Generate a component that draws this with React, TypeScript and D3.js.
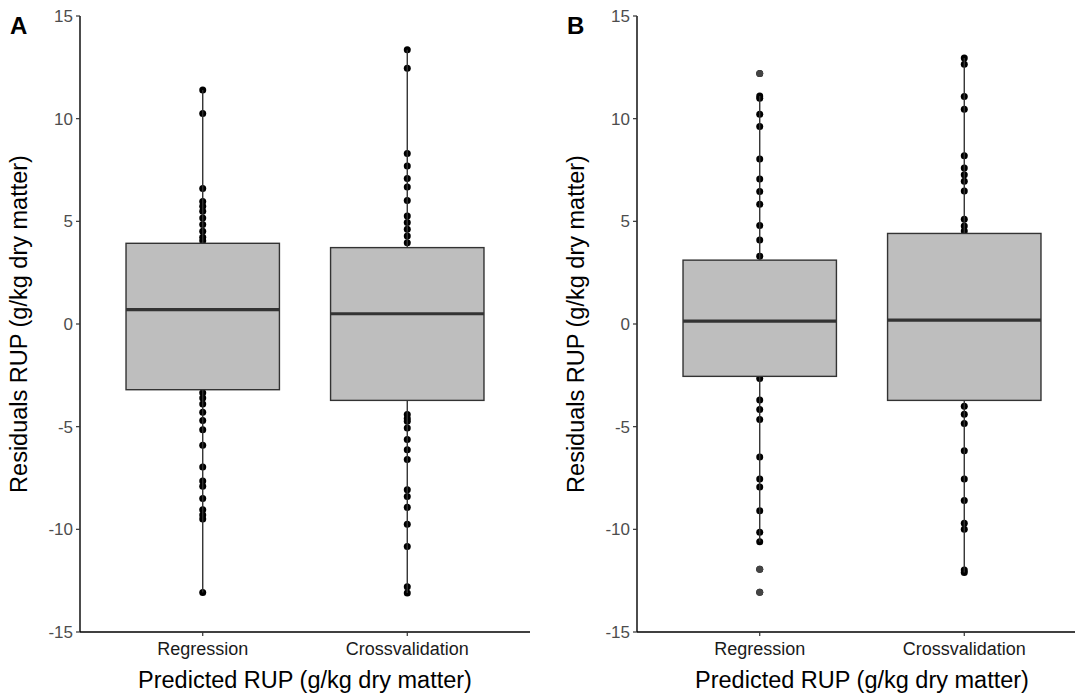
import React from "react";
import * as d3 from "d3";

const categories = ["Regression", "Crossvalidation"];
const yTicks = [-15, -10, -5, 0, 5, 10, 15];

// Panel A residuals (visible points)
const aRegression = [11.4, 10.25, 6.6, 5.97, 5.73, 5.49, 5.16, 4.84, 4.52, 4.23, 4.05,
  -3.35, -3.6, -3.9, -4.3, -4.7, -5.15, -5.9, -6.97, -7.65, -7.9, -8.5, -9.05, -9.3, -9.5, -13.08];
const aCrossvalidation = [13.36, 12.46, 8.3, 7.7, 7.08, 6.67, 6.02, 5.26, 4.94, 4.61, 4.28, 3.96,
  -4.41, -4.6, -4.74, -5.06, -5.63, -6.12, -6.6, -8.07, -8.4, -8.93, -9.75, -10.84, -12.8, -13.1];
// Panel B residuals
const bRegression = [12.2, 11.1, 11.0, 10.22, 9.62, 8.04, 7.06, 6.45, 5.83, 4.8, 4.09, 3.3,
  -2.66, -3.7, -4.17, -4.65, -6.48, -7.55, -7.94, -9.1, -10.14, -10.6, -11.94, -13.06];
const bCrossvalidation = [12.95, 12.65, 11.08, 10.46, 8.19, 7.6, 7.27, 6.95, 6.48, 5.1, 4.77, 4.53,
  -4.0, -4.4, -4.85, -6.17, -7.55, -8.6, -9.7, -10.0, -11.98, -12.1];

// Box statistics [q1, median, q3]
const aStats = [[-3.2, 0.7, 3.93], [-3.72, 0.5, 3.72]];
const bStats = [[-2.55, 0.14, 3.11], [-3.72, 0.19, 4.41]];

const panelLabels = ["A", "B"];
const yTitle = "Residuals RUP (g/kg dry matter)";
const xTitle = "Predicted RUP (g/kg dry matter)";

const FONT = "'Liberation Sans', Arial, sans-serif";
const W = 1075, H = 695;
const TOP = 16, BOTTOM = 632;

function Panel({ left, right, label, series, stats }: any) {
  const y = d3.scaleLinear().domain([-15, 15]).range([BOTTOM, TOP]);
  const x = d3.scalePoint<string>().domain(categories).range([left, right]).padding(0.6);
  const step = x.step();
  const bw = step * 0.75;
  const boxes = categories.map((c, i) => {
    const [q1, med, q3] = stats[i];
    const iqr = q3 - q1;
    const lo = q1 - 1.5 * iqr, hi = q3 + 1.5 * iqr;
    const vals: number[] = series[i];
    const inside = vals.filter((v) => v >= lo && v <= hi);
    const wLo = Math.min(q1, d3.min(inside) as number);
    const wHi = Math.max(q3, d3.max(inside) as number);
    const outliers = vals.filter((v) => v < lo || v > hi);
    return { c, q1, med, q3, wLo, wHi, outliers, vals };
  });
  const cx = (left + right) / 2;
  return (
    <g>
      <text x={left - 70} y={34} fontFamily={FONT} fontWeight="bold" fontSize={24} fill="#000">{label}</text>
      {boxes.map((b) => b.vals.map((v, j) => (
        <circle key={b.c + j} cx={x(b.c)} cy={y(v)} r={3.5} fill="#000" />
      )))}
      {boxes.map((b) => {
        const px = x(b.c) as number;
        return (
          <g key={b.c}>
            <line x1={px} x2={px} y1={y(b.wHi)} y2={y(b.q3)} stroke="#333" strokeWidth={1.4} />
            <line x1={px} x2={px} y1={y(b.q1)} y2={y(b.wLo)} stroke="#333" strokeWidth={1.4} />
            <rect x={px - bw / 2} y={y(b.q3)} width={bw} height={y(b.q1) - y(b.q3)} fill="#bebebe" stroke="#333" strokeWidth={1.4} />
            <line x1={px - bw / 2} x2={px + bw / 2} y1={y(b.med)} y2={y(b.med)} stroke="#333" strokeWidth={3.2} />
            {b.outliers.map((v, j) => (
              <circle key={j} cx={px} cy={y(v)} r={3.5} fill="#444" />
            ))}
          </g>
        );
      })}
      <line x1={left} x2={left} y1={TOP} y2={BOTTOM} stroke="#000" strokeWidth={1.4} />
      <line x1={left} x2={right} y1={BOTTOM} y2={BOTTOM} stroke="#000" strokeWidth={1.4} />
      {yTicks.map((t) => (
        <g key={t}>
          <line x1={left - 4} x2={left} y1={y(t)} y2={y(t)} stroke="#333" strokeWidth={1.2} />
          <text x={left - 7} y={y(t)} dy="0.35em" textAnchor="end" fontFamily={FONT} fontSize={17} fill="#4d4d4d">{t}</text>
        </g>
      ))}
      {categories.map((c) => (
        <g key={c}>
          <line x1={x(c)} x2={x(c)} y1={BOTTOM} y2={BOTTOM + 4} stroke="#333" strokeWidth={1.2} />
          <text x={x(c)} y={BOTTOM + 23} textAnchor="middle" fontFamily={FONT} fontSize={18} fill="#1a1a1a">{c}</text>
        </g>
      ))}
      <text x={cx} y={688} textAnchor="middle" fontFamily={FONT} fontSize={23.5} fill="#000">{xTitle}</text>
      <text transform={`translate(${left - 53},${(TOP + BOTTOM) / 2}) rotate(-90)`} textAnchor="middle" fontFamily={FONT} fontSize={23.5} fill="#000">{yTitle}</text>
    </g>
  );
}

export default function App() {
  return (
    <div style={{ position: "absolute", left: 0, top: 0 }}>
      <svg width={W} height={H} style={{ display: "block", background: "#fff" }}>
        <Panel left={80} right={530} label={panelLabels[0]} series={[aRegression, aCrossvalidation]} stats={aStats} />
        <Panel left={637} right={1087} label={panelLabels[1]} series={[bRegression, bCrossvalidation]} stats={bStats} />
      </svg>
    </div>
  );
}
